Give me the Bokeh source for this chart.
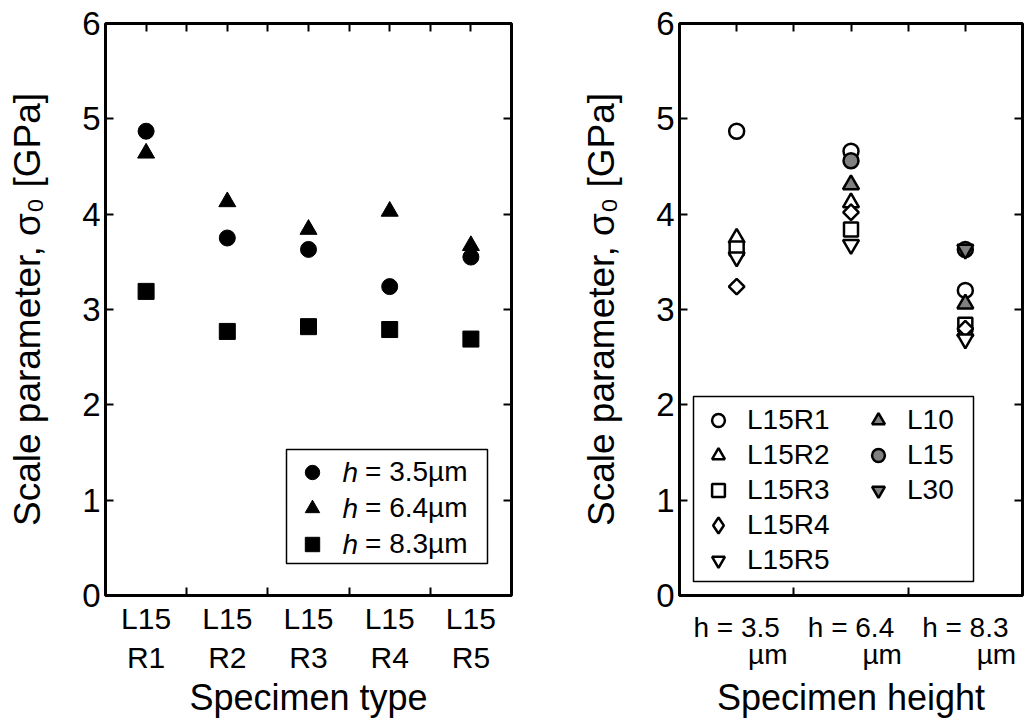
import math
from bokeh.plotting import figure
from bokeh.models import (Range1d, FixedTicker, LinearAxis, Legend, LegendItem,
                          Label, BoxAnnotation, ColumnDataSource)
from bokeh.layouts import row
from bokeh.embed import file_html
from bokeh.resources import INLINE

FONT = "Liberation Sans"
NAN = float("nan")

# ---------------- data: left chart (scale parameter by specimen type) ----------------
specimen_types = ["L15\nR1", "L15\nR2", "L15\nR3", "L15\nR4", "L15\nR5"]
type_pos = [1, 2, 3, 4, 5]
sigma_h35 = [4.87, 3.75, 3.63, 3.24, 3.55]
sigma_h64 = [4.64, 4.13, 3.84, 4.03, 3.67]
sigma_h83 = [3.19, 2.77, 2.82, 2.79, 2.69]
left_heights = ["3.5", "6.4", "8.3"]

# ---------------- data: right chart (scale parameter by specimen height) ----------------
heights = ["3.5", "6.4", "8.3"]
height_pos = [1, 2, 3]
L15R1 = [4.87, 4.66, 3.20]
L15R2 = [3.75, 4.12, 2.77]
L15R3 = [3.64, 3.84, 2.84]
L15R4 = [3.24, 4.02, 2.80]
L15R5 = [3.55, 3.68, 2.69]
L10 = [NAN, 4.31, 3.06]
L15 = [NAN, 4.56, 3.63]
L30 = [NAN, NAN, 3.63]
right_names = ["L15R1", "L15R2", "L15R3", "L15R4", "L15R5", "L10", "L15", "L30"]
right_values = [L15R1, L15R2, L15R3, L15R4, L15R5, L10, L15, L30]

y_ticks = [0, 1, 2, 3, 4, 5, 6]
y_title = "Scale parameter, σ\u2080 [GPa]"

FRAME_BOTTOM = 595  # page y of frame bottom
H = 721


def make_fig(width, left_b, right_b, cats):
    n = len(cats)
    p = figure(width=width, height=H, x_range=Range1d(0.5, n + 0.5), y_range=Range1d(0, 6),
               output_backend="svg", toolbar_location=None,
               x_axis_type=None, y_axis_type=None,
               min_border_left=left_b, min_border_right=right_b,
               min_border_top=23, min_border_bottom=H - FRAME_BOTTOM)
    p.outline_line_color = "black"
    p.outline_line_width = 3
    p.outline_line_alpha = 1
    p.background_fill_color = "white"
    p.border_fill_color = "white"
    mids = [c + 0.5 for c in cats[:-1]]

    def style(ax, labels):
        ax.axis_line_color = None
        ax.major_tick_in = 8
        ax.major_tick_out = 0
        ax.minor_tick_in = 8
        ax.minor_tick_out = 0
        ax.major_tick_line_width = 2
        ax.minor_tick_line_width = 2
        ax.major_tick_line_color = "black"
        ax.minor_tick_line_color = "black"
        if not labels:
            ax.major_label_text_font_size = "0px"
            ax.major_label_standoff = 0

    bottom = LinearAxis(ticker=FixedTicker(ticks=cats, minor_ticks=mids))
    style(bottom, True)
    bottom.major_tick_line_color = None
    bottom.axis_label_text_font = FONT
    bottom.axis_label_text_font_size = "36px"
    bottom.axis_label_text_font_style = "normal"
    bottom.axis_label_text_color = "black"
    p.add_layout(bottom, "below")

    top = LinearAxis(ticker=FixedTicker(ticks=cats, minor_ticks=mids))
    style(top, False)
    top.major_label_overrides = {c: "" for c in cats}
    p.add_layout(top, "above")

    left = LinearAxis(ticker=FixedTicker(ticks=y_ticks), axis_label=y_title)
    style(left, True)
    left.major_label_text_font = FONT
    left.major_label_text_font_size = "33px"
    left.major_label_text_color = "black"
    left.major_label_standoff = 5
    left.axis_label_text_font = FONT
    left.axis_label_text_font_size = "37px"
    left.axis_label_text_font_style = "normal"
    left.axis_label_text_color = "black"
    left.axis_label_standoff = 31
    p.add_layout(left, "left")

    right = LinearAxis(ticker=FixedTicker(ticks=y_ticks))
    style(right, False)
    right.major_label_overrides = {t: "" for t in y_ticks}
    p.add_layout(right, "right")
    return p, bottom


def legend_box(p, left, right, bottom, top):
    p.add_layout(BoxAnnotation(left=left, right=right, bottom=bottom, top=top,
                               left_units="screen", right_units="screen",
                               bottom_units="screen", top_units="screen",
                               fill_color="white", fill_alpha=1,
                               line_color="black", line_width=1.5, line_alpha=1))


# ======================= left figure =======================
p1, bottom1 = make_fig(560, 105, 49, type_pos)
bottom1.axis_label = "Specimen type"
bottom1.major_label_overrides = {pos: lab for pos, lab in zip(type_pos, specimen_types)}
bottom1.major_label_text_font = FONT
bottom1.major_label_text_font_size = "30px"
bottom1.major_label_text_color = "black"
bottom1.major_label_standoff = 6
bottom1.axis_label_standoff = 0

src1 = ColumnDataSource(dict(x=type_pos, h35=sigma_h35, h64=sigma_h64, h83=sigma_h83))
ra = p1.scatter(x="x", y="h35", source=src1, marker="circle", size=16, color="black")
rb = p1.scatter(x="x", y="h64", source=src1, marker="triangle", size=17, color="black")
rc = p1.scatter(x="x", y="h83", source=src1, marker="square", size=16, color="black")

legend_box(p1, 181, 382, 32, 146)
L_GW, L_GH, L_STAND = 40, 36, 33
L_VX, L_TOP = 187, 141  # glyph column left edge / top of first row (screen units)
legend1 = Legend(items=[LegendItem(label="= " + h + "µm", renderers=[r])
                        for h, r in zip(left_heights, [ra, rb, rc])],
                 location=(L_VX, L_TOP - 3 * L_GH), orientation="vertical",
                 padding=0, spacing=0, glyph_width=L_GW, glyph_height=L_GH,
                 label_standoff=L_STAND, margin=0,
                 label_text_font=FONT, label_text_font_size="28px", label_text_color="black",
                 border_line_color=None, background_fill_alpha=0)
p1.add_layout(legend1)
label_start = L_VX + L_GW + L_STAND
for i in range(3):
    cy = L_TOP - L_GH / 2 - i * L_GH
    p1.add_layout(Label(x=label_start - 23, y=cy, x_units="screen", y_units="screen", text="h",
                        text_font=FONT, text_font_style="italic", text_font_size="28px",
                        text_color="black", text_align="left", text_baseline="middle",
                        level="overlay"))

# ======================= right figure =======================
p2, bottom2 = make_fig(465, 119, 3, height_pos)
bottom2.axis_label = "Specimen height"
bottom2.major_label_overrides = {pos: "h = " + h + "\n" + "\u00a0" * 8 + "µm"
                                 for pos, h in zip(height_pos, heights)}
bottom2.major_label_text_font = FONT
bottom2.major_label_text_font_size = "28px"
bottom2.major_label_text_color = "black"
bottom2.major_label_text_line_height = 0.9
bottom2.major_label_standoff = 16
bottom2.axis_label_standoff = 4

markers = ["circle", "triangle", "square", "square", "inverted_triangle",
           "triangle", "circle", "inverted_triangle"]
sizes = [15, 16, 14, 11, 16, 16, 15, 16]
angles = [0, 0, 0, math.pi / 4, 0, 0, 0, 0]
fills = ["white"] * 5 + ["#808080"] * 3

rends = []
for name, vals, m, s, a, f in zip(right_names, right_values, markers, sizes, angles, fills):
    src = ColumnDataSource(dict(x=height_pos, y=vals))
    if name == "L15R4":
        # diamond shape for the legend key, hidden beneath the rotated squares
        key = p2.scatter(x="x", y="y", source=src, marker="diamond", size=9,
                         fill_color="white", line_color="black", line_width=2.5)
    r = p2.scatter(x="x", y="y", source=src, marker=m, size=s, angle=a,
                   fill_color=f, line_color="black", line_width=2.5)
    rends.append(key if name == "L15R4" else r)

legend_box(p2, 14, 294, 14, 199)

R_GW, R_PITCH, R_TOP = 32, 35, 191   # glyph box, row pitch, top of first row (screen)
R_COLS = [(23, right_names[:5], rends[:5]), (183, right_names[5:], rends[5:])]
for col_x, names, rs in R_COLS:
    for j, (n, r) in enumerate(zip(names, rs)):
        gw = 40 if n == "L15R4" else R_GW
        cx = col_x + R_GW / 2
        cy = R_TOP - R_PITCH * j - R_GW / 2
        leg = Legend(items=[LegendItem(label=n, renderers=[r])],
                     location=(cx - gw / 2, cy - gw / 2), orientation="vertical",
                     padding=0, spacing=0, glyph_width=gw, glyph_height=gw,
                     label_standoff=13 - (gw - R_GW) // 2, margin=0,
                     label_text_font=FONT, label_text_font_size="28px",
                     label_text_color="black",
                     border_line_color=None, background_fill_alpha=0)
        p2.add_layout(leg)

layout = row(p1, p2)
open("out.html", "w").write(file_html(layout, INLINE))
